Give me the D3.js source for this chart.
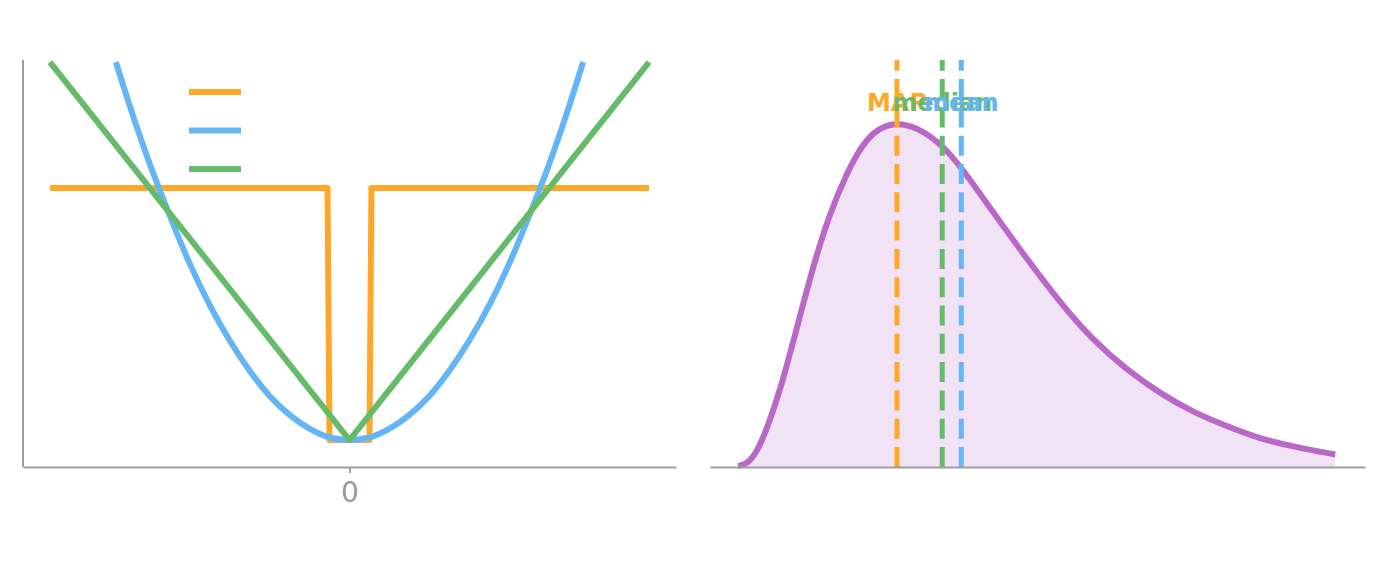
<!DOCTYPE html>
<html>
<head>
<meta charset="utf-8">
<script src="https://cdn.jsdelivr.net/npm/d3@7"></script>
<style>
  body { margin: 0; background: #fff; }
  text { font-family: "DejaVu Sans", sans-serif; }
</style>
</head>
<body>
<svg width="1387" height="573"></svg>
<script>
// loss functions (left panel)
const quadX = [-2.34, -2.2, -2.0, -1.8, -1.6, -1.4, -1.2, -1.0, -0.8, -0.6, -0.4, -0.2, 0,
               0.2, 0.4, 0.6, 0.8, 1.0, 1.2, 1.4, 1.6, 1.8, 2.0, 2.2, 2.34];
const quadY = [3.0, 2.65, 2.19, 1.78, 1.40, 1.07, 0.79, 0.55, 0.35, 0.20, 0.09, 0.02, 0,
               0.02, 0.09, 0.20, 0.35, 0.55, 0.79, 1.07, 1.40, 1.78, 2.19, 2.65, 3.0];
const absX = [-3, 0, 3];
const absY = [3, 0, 3];
const zeroOneX = [-3, -0.22, -0.20, 0.20, 0.22, 3];
const zeroOneY = [2, 2, 0, 0, 2, 2];
const xTicks = [0];

// posterior density (right panel)
const densX = [-0.03, 0.14, 0.31, 0.47, 0.68, 0.96, 1.23, 1.51, 1.80, 2.07, 2.35, 2.64,
               2.98, 3.40, 3.75, 4.25, 4.82, 5.38, 5.93, 6.50, 7.06, 7.61, 8.18, 8.74,
               9.29, 10.0];
const densY = [0.0006, 0.002, 0.011, 0.026, 0.049, 0.089, 0.128, 0.162, 0.188, 0.207,
               0.217, 0.220, 0.217, 0.206, 0.190, 0.163, 0.133, 0.105, 0.081, 0.062,
               0.047, 0.035, 0.026, 0.018, 0.013, 0.008];
const estNames = ["MAP", "median", "mean"];
const estValues = [2.64, 3.40, 3.72];

const orange = "#ffa726", blue = "#64b5f6", green = "#66bb6a", purple = "#ba68c8";
const axisCol = "#9e9e9e";

const svg = d3.select("svg");

// ---- left panel
const x1 = d3.scaleLinear().domain([-3.27, 3.27]).range([23, 676]);
const y1 = d3.scaleLinear().domain([-0.214, 3.016]).range([467, 60]);

const lossLine = d3.line().x(d => x1(d[0])).y(d => y1(d[1]));
const left = svg.append("g");

const series = [
  {x: zeroOneX, y: zeroOneY, color: orange, curve: d3.curveLinear},
  {x: quadX, y: quadY, color: blue, curve: d3.curveMonotoneX},
  {x: absX, y: absY, color: green, curve: d3.curveLinear}
];
series.forEach(s => {
  left.append("path")
    .datum(d3.zip(s.x, s.y))
    .attr("d", lossLine.curve(s.curve))
    .attr("fill", "none")
    .attr("stroke", s.color)
    .attr("stroke-width", 6)
    .attr("stroke-linejoin", "round");
});

// legend (lines only)
series.forEach((s, i) => {
  left.append("line")
    .attr("x1", 189).attr("x2", 241)
    .attr("y1", 92 + i * 38.5).attr("y2", 92 + i * 38.5)
    .attr("stroke", s.color)
    .attr("stroke-width", 6);
});

const xAxis1 = left.append("g")
  .attr("transform", "translate(0,467)")
  .call(d3.axisBottom(x1).tickValues(xTicks).tickFormat(d3.format("d"))
    .tickSize(6).tickPadding(9).tickSizeOuter(0));
xAxis1.select(".domain").attr("stroke", axisCol).attr("stroke-width", 2);
xAxis1.selectAll(".tick line").attr("stroke", axisCol).attr("stroke-width", 2);
xAxis1.selectAll(".tick text").attr("fill", "#999").attr("font-size", 28)
  .attr("font-family", "DejaVu Sans, sans-serif");

left.append("line")
  .attr("x1", 23).attr("x2", 23)
  .attr("y1", y1.range()[1]).attr("y2", y1.range()[0])
  .attr("stroke", axisCol).attr("stroke-width", 2);

// ---- right panel
const x2 = d3.scaleLinear().domain([-0.5, 10.5]).range([710, 1365]);
const y2 = d3.scaleLinear().domain([0, 0.26]).range([467, 60]);
const right = svg.append("g");
const dens = d3.zip(densX, densY);

right.append("path")
  .datum(dens)
  .attr("d", d3.area().x(d => x2(d[0])).y0(y2(0)).y1(d => y2(d[1])).curve(d3.curveBasis))
  .attr("fill", "#f1e3f5");

right.append("path")
  .datum(dens)
  .attr("d", d3.line().x(d => x2(d[0])).y(d => y2(d[1])).curve(d3.curveBasis))
  .attr("fill", "none")
  .attr("stroke", purple)
  .attr("stroke-width", 6);

const estColors = [orange, green, blue];
estValues.forEach((v, i) => {
  right.append("line")
    .attr("x1", x2(v)).attr("x2", x2(v))
    .attr("y1", y2(0)).attr("y2", y2.range()[1])
    .attr("stroke", estColors[i])
    .attr("stroke-width", 5)
    .attr("stroke-dasharray", "20,8.3");
});
estValues.forEach((v, i) => {
  right.append("text")
    .attr("x", x2(v)).attr("y", 111)
    .attr("text-anchor", "middle")
    .attr("font-size", 24)
    .attr("font-weight", "bold")
    .attr("fill", estColors[i])
    .text(estNames[i]);
});

const xAxis2 = right.append("g")
  .attr("transform", "translate(0,467)")
  .call(d3.axisBottom(x2).tickValues([]).tickSizeOuter(0));
xAxis2.select(".domain").attr("stroke", axisCol).attr("stroke-width", 2);
</script>
</body>
</html>
